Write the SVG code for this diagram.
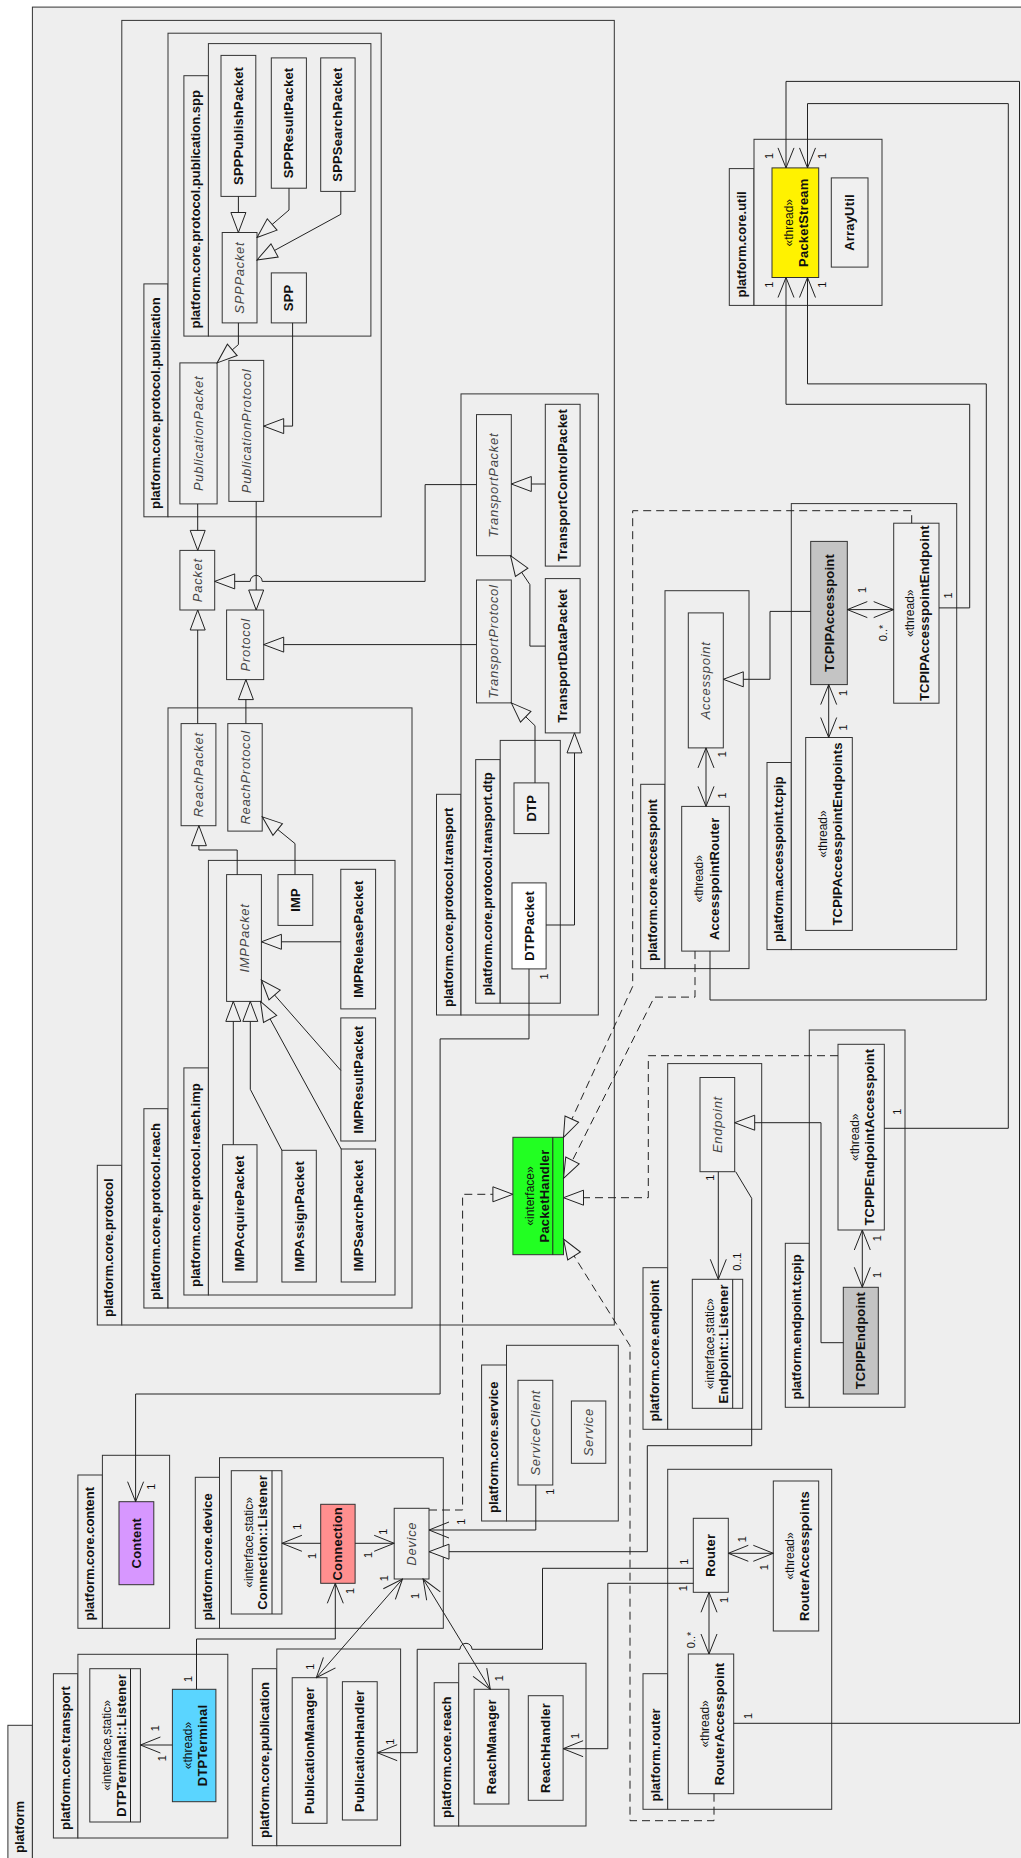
<svg xmlns="http://www.w3.org/2000/svg" width="1021" height="1858" viewBox="0 0 1021 1858">
<style>
.pkg{fill:#eeeeee;stroke:#333;stroke-width:1}
.cls{fill:#f0f0f0;stroke:#333;stroke-width:1}
.ln{fill:none;stroke:#222;stroke-width:1}
.dl{fill:none;stroke:#222;stroke-width:1;stroke-dasharray:8,5}
text{font-family:"Liberation Sans",Arial,sans-serif;fill:#111;text-anchor:middle}
.pl{font-size:13px;font-weight:bold;text-anchor:start}
.b{font-size:13px;font-weight:bold;letter-spacing:0.2px}
.i{font-size:13px;font-style:italic;letter-spacing:0.7px;fill:#444}
.s{font-size:12px}
.m{font-size:11px}
</style>
<defs>
<marker id="tri" viewBox="-1 -9 22 18" refX="20" refY="0" markerWidth="22" markerHeight="18" markerUnits="userSpaceOnUse" orient="auto"><path d="M20,0 L0,-7.5 L0,7.5 Z" fill="#efefef" stroke="#222" stroke-width="1" stroke-dasharray="none"/></marker>
<marker id="arr" viewBox="-1 -9 22 18" refX="20" refY="0" markerWidth="22" markerHeight="18" markerUnits="userSpaceOnUse" orient="auto-start-reverse"><path d="M0,-8 L20,0 L0,8" fill="none" stroke="#222" stroke-width="1"/></marker>
</defs>
<rect x="0" y="0" width="1021" height="1858" fill="#ffffff"/>

<g id="pkg-platform"><rect class="pkg" x="7.9" y="1725.3" width="24.5" height="150"/><rect class="pkg" x="32.4" y="7.1" width="1000" height="1870"/><text class="pl" transform="translate(24,1853) rotate(-90)">platform</text></g>
<g id="pkg-protocol"><rect class="pkg" x="97.3" y="1165.3" width="24.5" height="159.7"/><rect class="pkg" x="121.8" y="20.4" width="492.5" height="1304.6"/><text class="pl" transform="translate(113.3,1317) rotate(-90)">platform.core.protocol</text></g>
<g id="pkg-publication"><rect class="pkg" x="143.9" y="283.9" width="24.1" height="232.9"/><rect class="pkg" x="168" y="33.2" width="213.2" height="483.6"/><text class="pl" transform="translate(160,509) rotate(-90)">platform.core.protocol.publication</text></g>
<g id="pkg-spp"><rect class="pkg" x="183.9" y="75.7" width="24.5" height="260.4"/><rect class="pkg" x="208.4" y="43.6" width="162.5" height="292.5"/><text class="pl" transform="translate(200.2,328.5) rotate(-90)">platform.core.protocol.publication.spp</text></g>
<g id="pkg-transport"><rect class="pkg" x="436.5" y="794.3" width="24.5" height="220.7"/><rect class="pkg" x="461" y="393.9" width="137.3" height="621.1"/><text class="pl" transform="translate(452.5,1007) rotate(-90)">platform.core.protocol.transport</text></g>
<g id="pkg-dtp"><rect class="pkg" x="475.7" y="759.6" width="24.5" height="243.6"/><rect class="pkg" x="500.2" y="740.4" width="60.1" height="262.8"/><text class="pl" transform="translate(491.7,995.5) rotate(-90)">platform.core.protocol.transport.dtp</text></g>
<g id="pkg-reach"><rect class="pkg" x="143.9" y="1108.7" width="24.1" height="199.3"/><rect class="pkg" x="168" y="707.9" width="244" height="600.1"/><text class="pl" transform="translate(160,1300) rotate(-90)">platform.core.protocol.reach</text></g>
<g id="pkg-imp"><rect class="pkg" x="183.9" y="1067.9" width="24.5" height="227.1"/><rect class="pkg" x="208.4" y="860.4" width="186.6" height="434.6"/><text class="pl" transform="translate(200.2,1287) rotate(-90)">platform.core.protocol.reach.imp</text></g>
<g id="pkg-util"><rect class="pkg" x="729.3" y="168.6" width="24.7" height="136.8"/><rect class="pkg" x="754" y="139.3" width="128" height="166.1"/><text class="pl" transform="translate(745.5,297.5) rotate(-90)">platform.core.util</text></g>
<g id="pkg-core-accesspoint"><rect class="pkg" x="640.7" y="784.3" width="24.3" height="184.3"/><rect class="pkg" x="665" y="590.7" width="84" height="377.9"/><text class="pl" transform="translate(656.7,961) rotate(-90)">platform.core.accesspoint</text></g>
<g id="pkg-accesspoint-tcpip"><rect class="pkg" x="767" y="762.5" width="24.3" height="187.1"/><rect class="pkg" x="791.3" y="503.6" width="165.4" height="446"/><text class="pl" transform="translate(783,942) rotate(-90)">platform.accesspoint.tcpip</text></g>
<g id="pkg-core-endpoint"><rect class="pkg" x="643" y="1267.7" width="24.7" height="161.6"/><rect class="pkg" x="667.7" y="1063.6" width="94" height="365.7"/><text class="pl" transform="translate(659,1421.5) rotate(-90)">platform.core.endpoint</text></g>
<g id="pkg-endpoint-tcpip"><rect class="pkg" x="785.3" y="1243.3" width="24" height="164"/><rect class="pkg" x="809.3" y="1030" width="95.7" height="377.3"/><text class="pl" transform="translate(801.3,1399.5) rotate(-90)">platform.endpoint.tcpip</text></g>
<g id="pkg-service"><rect class="pkg" x="481.6" y="1365" width="24.9" height="156"/><rect class="pkg" x="506.5" y="1345.3" width="111.8" height="175.7"/><text class="pl" transform="translate(498,1513) rotate(-90)">platform.core.service</text></g>
<g id="pkg-content"><rect class="pkg" x="77.9" y="1475" width="24.5" height="153.3"/><rect class="pkg" x="102.4" y="1455.3" width="67.2" height="173"/><text class="pl" transform="translate(94,1620.5) rotate(-90)">platform.core.content</text></g>
<g id="pkg-device"><rect class="pkg" x="195.3" y="1477.3" width="24.2" height="151"/><rect class="pkg" x="219.5" y="1457.7" width="223.8" height="170.6"/><text class="pl" transform="translate(211.5,1620.5) rotate(-90)">platform.core.device</text></g>
<g id="pkg-core-transport"><rect class="pkg" x="53.4" y="1673.7" width="24.5" height="164.3"/><rect class="pkg" x="77.9" y="1654.3" width="149.9" height="183.7"/><text class="pl" transform="translate(69.5,1830) rotate(-90)">platform.core.transport</text></g>
<g id="pkg-core-publication"><rect class="pkg" x="252.3" y="1668.7" width="24.5" height="177"/><rect class="pkg" x="276.8" y="1649" width="123.8" height="196.7"/><text class="pl" transform="translate(268.5,1838) rotate(-90)">platform.core.publication</text></g>
<g id="pkg-core-reach"><rect class="pkg" x="434.2" y="1682.7" width="24.5" height="143.3"/><rect class="pkg" x="458.7" y="1663.3" width="127.3" height="162.7"/><text class="pl" transform="translate(450.5,1818) rotate(-90)">platform.core.reach</text></g>
<g id="pkg-router"><rect class="pkg" x="643" y="1673.7" width="24.7" height="135.6"/><rect class="pkg" x="667.7" y="1469.3" width="164" height="340"/><text class="pl" transform="translate(659.5,1801.5) rotate(-90)">platform.router</text></g>

<g id="SPPPublishPacket"><rect class="cls" x="221" y="55.4" width="34.8" height="141"/><text class="b" transform="translate(242.9,125.9) rotate(-90)">SPPPublishPacket</text></g>
<g id="SPPResultPacket"><rect class="cls" x="271.3" y="57.9" width="35.1" height="130.3"/><text class="b" transform="translate(293.4,123) rotate(-90)">SPPResultPacket</text></g>
<g id="SPPSearchPacket"><rect class="cls" x="320.7" y="57.9" width="34.4" height="133.5"/><text class="b" transform="translate(342.4,124.6) rotate(-90)">SPPSearchPacket</text></g>
<g id="SPPPacket"><rect class="cls" x="222.2" y="232.5" width="34.8" height="90.4"/><text class="i" transform="translate(244.1,277.7) rotate(-90)">SPPPacket</text></g>
<g id="SPP"><rect class="cls" x="271.3" y="272.9" width="35.1" height="50"/><text class="b" transform="translate(293.4,297.9) rotate(-90)">SPP</text></g>
<g id="PublicationPacket"><rect class="cls" x="179.9" y="362.9" width="37.2" height="141"/><text class="i" transform="translate(203,433.4) rotate(-90)">PublicationPacket</text></g>
<g id="PublicationProtocol"><rect class="cls" x="228.9" y="360.4" width="34.8" height="141"/><text class="i" transform="translate(250.8,430.9) rotate(-90)">PublicationProtocol</text></g>
<g id="Packet"><rect class="cls" x="179.9" y="550.4" width="34.8" height="59.6"/><text class="i" transform="translate(201.8,580.2) rotate(-90)">Packet</text></g>
<g id="Protocol"><rect class="cls" x="226.6" y="610" width="37.1" height="69.6"/><text class="i" transform="translate(249.7,644.8) rotate(-90)">Protocol</text></g>
<g id="TransportPacket"><rect class="cls" x="476.5" y="414.6" width="34.8" height="141.1"/><text class="i" transform="translate(498.4,485.2) rotate(-90)">TransportPacket</text></g>
<g id="TransportControlPacket"><rect class="cls" x="545.3" y="404.3" width="34.8" height="161.8"/><text class="b" transform="translate(567.2,485.2) rotate(-90)">TransportControlPacket</text></g>
<g id="TransportProtocol"><rect class="cls" x="476.5" y="580" width="34.8" height="122.9"/><text class="i" transform="translate(498.4,641.5) rotate(-90)">TransportProtocol</text></g>
<g id="TransportDataPacket"><rect class="cls" x="545.3" y="578.6" width="34.8" height="154.3"/><text class="b" transform="translate(567.2,655.8) rotate(-90)">TransportDataPacket</text></g>
<g id="DTP"><rect class="cls" x="514" y="782.9" width="34.8" height="50.7"/><text class="b" transform="translate(535.9,808.3) rotate(-90)">DTP</text></g>
<g id="DTPPacket"><rect class="cls" x="512" y="882.9" width="34.1" height="86" style="fill:#ffffff"/><text class="b" transform="translate(533.6,925.9) rotate(-90)">DTPPacket</text></g>
<g id="ReachPacket"><rect class="cls" x="181.1" y="723.6" width="34.8" height="102.1"/><text class="i" transform="translate(203,774.7) rotate(-90)">ReachPacket</text></g>
<g id="ReachProtocol"><rect class="cls" x="227.8" y="723.6" width="34.4" height="107.5"/><text class="i" transform="translate(249.5,777.4) rotate(-90)">ReachProtocol</text></g>
<g id="IMPPacket"><rect class="cls" x="226.6" y="874.6" width="34.8" height="126.8"/><text class="i" transform="translate(248.5,938) rotate(-90)">IMPPacket</text></g>
<g id="IMP"><rect class="cls" x="278" y="874.6" width="34.8" height="50.8"/><text class="b" transform="translate(299.9,900) rotate(-90)">IMP</text></g>
<g id="IMPReleasePacket"><rect class="cls" x="340.8" y="869.3" width="34.8" height="139.6"/><text class="b" transform="translate(362.7,939.1) rotate(-90)">IMPReleasePacket</text></g>
<g id="IMPResultPacket"><rect class="cls" x="340.8" y="1017.9" width="34.8" height="123.1"/><text class="b" transform="translate(362.7,1079.5) rotate(-90)">IMPResultPacket</text></g>
<g id="IMPAcquirePacket"><rect class="cls" x="222.6" y="1144.7" width="34.4" height="137.3"/><text class="b" transform="translate(244.3,1213.4) rotate(-90)">IMPAcquirePacket</text></g>
<g id="IMPAssignPacket"><rect class="cls" x="281.9" y="1150.3" width="34.4" height="131.7"/><text class="b" transform="translate(303.6,1216.2) rotate(-90)">IMPAssignPacket</text></g>
<g id="IMPSearchPacket"><rect class="cls" x="341.2" y="1149" width="34.4" height="133"/><text class="b" transform="translate(362.9,1215.5) rotate(-90)">IMPSearchPacket</text></g>
<g id="PacketStream"><rect class="cls" x="772" y="167.9" width="46.7" height="109.6" style="fill:#fff200"/><text class="s" transform="translate(792.9,222.7) rotate(-90)">«thread»</text><text class="b" transform="translate(808.4,222.7) rotate(-90)">PacketStream</text></g>
<g id="ArrayUtil"><rect class="cls" x="831.3" y="177.9" width="36.7" height="89.2"/><text class="b" transform="translate(854.2,222.5) rotate(-90)">ArrayUtil</text></g>
<g id="TCPIPAccesspoint"><rect class="cls" x="810.7" y="541.4" width="36.6" height="143.2" style="fill:#c4c4c4"/><text class="b" transform="translate(833.5,613) rotate(-90)">TCPIPAccesspoint</text></g>
<g id="TCPIPAccesspointEndpoint"><rect class="cls" x="893.7" y="523.2" width="45.3" height="180"/><text class="s" transform="translate(913.9,613.2) rotate(-90)">«thread»</text><text class="b" transform="translate(929.4,613.2) rotate(-90)">TCPIPAccesspointEndpoint</text></g>
<g id="TCPIPAccesspointEndpoints"><rect class="cls" x="805.7" y="737.5" width="46.6" height="192.9"/><text class="s" transform="translate(826.5,834) rotate(-90)">«thread»</text><text class="b" transform="translate(842,834) rotate(-90)">TCPIPAccesspointEndpoints</text></g>
<g id="Accesspoint"><rect class="cls" x="688.3" y="612.9" width="35" height="135"/><text class="i" transform="translate(710.3,680.4) rotate(-90)">Accesspoint</text></g>
<g id="AccesspointRouter"><rect class="cls" x="681.7" y="806.4" width="47.6" height="144.7"/><text class="s" transform="translate(703,878.8) rotate(-90)">«thread»</text><text class="b" transform="translate(718.5,878.8) rotate(-90)">AccesspointRouter</text></g>
<g id="Endpoint"><rect class="cls" x="700" y="1077.5" width="34.7" height="94.2"/><text class="i" transform="translate(721.9,1124.6) rotate(-90)">Endpoint</text></g>
<g id="EndpointListener"><rect class="cls" x="692.3" y="1279.3" width="50.4" height="129"/><line class="ln" x1="732.7" y1="1279.3" x2="732.7" y2="1408.3"/><text class="s" transform="translate(713.5,1343.8) rotate(-90)">«interface,static»</text><text class="b" transform="translate(728,1343.8) rotate(-90)">Endpoint::Listener</text></g>
<g id="TCPIPEndpointAccesspoint"><rect class="cls" x="838" y="1044.3" width="46.3" height="185.7"/><text class="s" transform="translate(858.7,1137.2) rotate(-90)">«thread»</text><text class="b" transform="translate(874.2,1137.2) rotate(-90)">TCPIPEndpointAccesspoint</text></g>
<g id="TCPIPEndpoint"><rect class="cls" x="843.3" y="1287.3" width="35" height="106.7" style="fill:#c4c4c4"/><text class="b" transform="translate(865.3,1340.7) rotate(-90)">TCPIPEndpoint</text></g>
<g id="PacketHandler"><rect class="cls" x="512.9" y="1137.3" width="50.6" height="117.4" style="fill:#22ff22"/><line class="ln" x1="552.8" y1="1137.3" x2="552.8" y2="1254.7"/><text class="s" transform="translate(533.6,1196) rotate(-90)">«interface»</text><text class="b" transform="translate(549.4,1196) rotate(-90)">PacketHandler</text></g>
<g id="ServiceClient"><rect class="cls" x="518" y="1380.3" width="34.8" height="104.7"/><text class="i" transform="translate(539.9,1432.7) rotate(-90)">ServiceClient</text></g>
<g id="Service"><rect class="cls" x="571.4" y="1401" width="34.4" height="62.3"/><text class="i" transform="translate(593.1,1432.2) rotate(-90)">Service</text></g>
<g id="Content"><rect class="cls" x="119" y="1501.7" width="34.8" height="83" style="fill:#d797ff"/><text class="b" transform="translate(140.9,1543.2) rotate(-90)">Content</text></g>
<g id="ConnectionListener"><rect class="cls" x="231.3" y="1470.7" width="50.6" height="143.3"/><line class="ln" x1="272" y1="1470.7" x2="272" y2="1614"/><text class="s" transform="translate(252.6,1542.4) rotate(-90)">«interface,static»</text><text class="b" transform="translate(267.1,1542.4) rotate(-90)">Connection::Listener</text></g>
<g id="Connection"><rect class="cls" x="320.7" y="1504.3" width="34.4" height="79" style="fill:#ff8f8f"/><text class="b" transform="translate(342.4,1543.8) rotate(-90)">Connection</text></g>
<g id="Device"><rect class="cls" x="394.2" y="1508.3" width="34.8" height="70.7"/><text class="i" transform="translate(416.1,1543.7) rotate(-90)">Device</text></g>
<g id="DTPTerminalListener"><rect class="cls" x="89.8" y="1668.7" width="50.6" height="153.3"/><line class="ln" x1="130.5" y1="1668.7" x2="130.5" y2="1822"/><text class="s" transform="translate(111.2,1745.4) rotate(-90)">«interface,static»</text><text class="b" transform="translate(125.7,1745.4) rotate(-90)">DTPTerminal::Listener</text></g>
<g id="DTPTerminal"><rect class="cls" x="172.4" y="1689.3" width="43.5" height="112.4" style="fill:#5ad5ff"/><text class="s" transform="translate(191.7,1745.5) rotate(-90)">«thread»</text><text class="b" transform="translate(207.2,1745.5) rotate(-90)">DTPTerminal</text></g>
<g id="PublicationManager"><rect class="cls" x="292.2" y="1677.7" width="34.8" height="145.6"/><text class="b" transform="translate(314.1,1750.5) rotate(-90)">PublicationManager</text></g>
<g id="PublicationHandler"><rect class="cls" x="342.4" y="1681.7" width="34.8" height="138.3"/><text class="b" transform="translate(364.3,1750.9) rotate(-90)">PublicationHandler</text></g>
<g id="ReachManager"><rect class="cls" x="474.1" y="1689.3" width="34.8" height="114.7"/><text class="b" transform="translate(496,1746.7) rotate(-90)">ReachManager</text></g>
<g id="ReachHandler"><rect class="cls" x="528.3" y="1695.7" width="34.8" height="104.6"/><text class="b" transform="translate(550.2,1748) rotate(-90)">ReachHandler</text></g>
<g id="Router"><rect class="cls" x="693.3" y="1518.3" width="35" height="74"/><text class="b" transform="translate(715.3,1555.3) rotate(-90)">Router</text></g>
<g id="RouterAccesspoints"><rect class="cls" x="773.3" y="1481" width="45.4" height="150"/><text class="s" transform="translate(793.5,1556) rotate(-90)">«thread»</text><text class="b" transform="translate(809,1556) rotate(-90)">RouterAccesspoints</text></g>
<g id="RouterAccesspoint"><rect class="cls" x="688.3" y="1654" width="45.4" height="139.7"/><text class="s" transform="translate(708.5,1723.9) rotate(-90)">«thread»</text><text class="b" transform="translate(724,1723.9) rotate(-90)">RouterAccesspoint</text></g>

<g id="connectors">
<path class="ln" marker-end="url(#tri)" d="M238.4,196.4 V232.5"/>
<path class="ln" marker-end="url(#tri)" d="M289,188.2 V210 L257,237.5"/>
<path class="ln" marker-end="url(#tri)" d="M340.8,191.4 V214.3 L257,260"/>
<path class="ln" marker-end="url(#tri)" d="M238.4,322.9 V344.6 L217.1,362.9"/>
<path class="ln" marker-end="url(#tri)" d="M292.6,322.9 V426.1 H263.7"/>
<path class="ln" marker-end="url(#tri)" d="M197.7,503.9 V550.4"/>
<path class="ln" marker-end="url(#tri)" d="M256.2,501.4 V610"/>
<path class="ln" marker-end="url(#tri)" d="M476.5,484.6 H425.1 V581.4 H262.2 A6,6 0 0 0 250.2,581.4 H214.7"/>
<path class="ln" marker-end="url(#tri)" d="M545.3,484 H511.3"/>
<path class="ln" marker-end="url(#tri)" d="M545.3,646.1 H529.9 V584.6 L510.5,555.7"/>
<path class="ln" marker-end="url(#tri)" d="M476.5,644.6 H263.7"/>
<path class="ln" marker-end="url(#tri)" d="M535,782.9 V725.7 L511.3,702.9"/>
<path class="ln" marker-end="url(#tri)" d="M546.1,925 H574.5 V732.9"/>
<path class="ln" marker-end="url(#tri)" d="M197.7,723.6 V610"/>
<path class="ln" marker-end="url(#tri)" d="M245.9,723.6 V679.6"/>
<path class="ln" marker-end="url(#tri)" d="M237.2,874.6 V850 H198.9 V825.7"/>
<path class="ln" marker-end="url(#tri)" d="M295,874.6 V843.6 L262.2,816.8"/>
<path class="ln" marker-end="url(#tri)" d="M340.8,941.8 H261.4"/>
<path class="ln" marker-end="url(#tri)" d="M340.8,1070.4 L261.4,980"/>
<path class="ln" marker-end="url(#tri)" d="M233.3,1144.7 V1001.4"/>
<path class="ln" marker-end="url(#tri)" d="M281.9,1150.3 L250.3,1089.3 V1001.4"/>
<path class="ln" marker-end="url(#tri)" d="M341.2,1149 L260.5,1001.4"/>
<path class="ln" marker-end="url(#tri)" d="M810.7,611.4 H770 V679.3 H723.3"/>
<path class="ln" marker-end="url(#tri)" d="M843.3,1342.7 H821 V1122.7 H734.7"/>
<path class="ln" marker-end="url(#tri)" d="M735.7,1171.7 L751.7,1198.3 V1445.7 H647.3 V1551.7 H429"/>
<path class="dl" marker-end="url(#tri)" d="M429,1510 H462.6 V1194.3 H512.9"/>
<path class="dl" marker-end="url(#tri)" d="M911.7,523.2 V510.7 H632.7 V986.4 L563.5,1137.3"/>
<path class="dl" marker-end="url(#tri)" d="M695,951.1 V997.1 H654.3 L563.5,1178.3"/>
<path class="dl" marker-end="url(#tri)" d="M838,1055.7 H648.3 V1197.7 H563.5"/>
<path class="dl" marker-end="url(#tri)" d="M714,1793.7 V1820.7 H630 V1345.7 L563.5,1239"/>
<path class="ln" marker-end="url(#arr)" d="M733.7,1723.3 H1019.5 V81.4 H786 V167.9"/>
<path class="ln" marker-end="url(#arr)" d="M884.3,1128.3 H1008.3 V103.6 H807.5 V167.9"/>
<path class="ln" marker-end="url(#arr)" d="M939,607.9 H969.7 V404.3 H786 V277.5"/>
<path class="ln" marker-end="url(#arr)" d="M710,951.1 V1000 H986.3 V383.9 H807.5 V277.5"/>
<path class="ln" marker-start="url(#arr)" marker-end="url(#arr)" d="M847.3,609.6 H893.7"/>
<path class="ln" marker-start="url(#arr)" marker-end="url(#arr)" d="M828.7,684.6 V737.5"/>
<path class="ln" marker-start="url(#arr)" marker-end="url(#arr)" d="M706,747.9 V806.4"/>
<path class="ln" marker-end="url(#arr)" d="M718.3,1171.7 V1279.3"/>
<path class="ln" marker-start="url(#arr)" marker-end="url(#arr)" d="M862.3,1230 V1287.3"/>
<path class="ln" marker-end="url(#arr)" d="M529,968.9 V1038.9 H440.1 V1394 H135.6 V1501.7"/>
<path class="ln" marker-end="url(#arr)" d="M535.8,1485 V1530 H429"/>
<path class="ln" marker-end="url(#arr)" d="M320.7,1543.3 H281.9"/>
<path class="ln" marker-end="url(#arr)" d="M355.1,1543.3 H394.2"/>
<path class="ln" marker-start="url(#arr)" marker-end="url(#arr)" d="M402.5,1579 L316.3,1677.7"/>
<path class="ln" marker-start="url(#arr)" marker-end="url(#arr)" d="M423.1,1579 L490.3,1689.3"/>
<path class="ln" marker-end="url(#arr)" d="M196.5,1689.3 V1639 H335.3 V1583.3"/>
<path class="ln" marker-end="url(#arr)" d="M172.4,1745 H140.4"/>
<path class="ln" marker-end="url(#arr)" d="M693.3,1568.3 H542.5 V1649.3 H472 A6,6 0 0 0 460,1649.3 H417.2 V1752.7 H377.2"/>
<path class="ln" marker-end="url(#arr)" d="M693.3,1583.3 H607.8 V1748.7 H563.1"/>
<path class="ln" marker-start="url(#arr)" marker-end="url(#arr)" d="M728.3,1553.3 H773.3"/>
<path class="ln" marker-start="url(#arr)" marker-end="url(#arr)" d="M709,1592.3 V1654"/>
</g>

<g id="multiplicities">
<text class="m" transform="translate(773,156) rotate(-90)">1</text>
<text class="m" transform="translate(826.3,156) rotate(-90)">1</text>
<text class="m" transform="translate(773,284.6) rotate(-90)">1</text>
<text class="m" transform="translate(826.3,284.6) rotate(-90)">1</text>
<text class="m" transform="translate(547.7,976.4) rotate(-90)">1</text>
<text class="m" transform="translate(155.4,1486.7) rotate(-90)">1</text>
<text class="m" transform="translate(865.7,590) rotate(-90)">1</text>
<text class="m" transform="translate(887.3,633) rotate(-90)">0..*</text>
<text class="m" transform="translate(952.3,595.4) rotate(-90)">1</text>
<text class="m" transform="translate(847.3,692.9) rotate(-90)">1</text>
<text class="m" transform="translate(847.3,727.5) rotate(-90)">1</text>
<text class="m" transform="translate(725.7,754.3) rotate(-90)">1</text>
<text class="m" transform="translate(725.7,795.4) rotate(-90)">1</text>
<text class="m" transform="translate(714,1177.7) rotate(-90)">1</text>
<text class="m" transform="translate(740.7,1261.7) rotate(-90)">0..1</text>
<text class="m" transform="translate(901.3,1111.7) rotate(-90)">1</text>
<text class="m" transform="translate(880.7,1238.3) rotate(-90)">1</text>
<text class="m" transform="translate(880.7,1275) rotate(-90)">1</text>
<text class="m" transform="translate(553.6,1491.7) rotate(-90)">1</text>
<text class="m" transform="translate(464.7,1521.7) rotate(-90)">1</text>
<text class="m" transform="translate(300.6,1526.7) rotate(-90)">1</text>
<text class="m" transform="translate(316.4,1556) rotate(-90)">1</text>
<text class="m" transform="translate(386.8,1531.7) rotate(-90)">1</text>
<text class="m" transform="translate(371.7,1555) rotate(-90)">1</text>
<text class="m" transform="translate(387.5,1578.3) rotate(-90)">1</text>
<text class="m" transform="translate(314.4,1666.7) rotate(-90)">1</text>
<text class="m" transform="translate(419.2,1596) rotate(-90)">1</text>
<text class="m" transform="translate(503,1678.3) rotate(-90)">1</text>
<text class="m" transform="translate(354,1591) rotate(-90)">1</text>
<text class="m" transform="translate(192.2,1679) rotate(-90)">1</text>
<text class="m" transform="translate(159,1728.3) rotate(-90)">1</text>
<text class="m" transform="translate(166.1,1758.3) rotate(-90)">1</text>
<text class="m" transform="translate(393.5,1741.7) rotate(-90)">1</text>
<text class="m" transform="translate(688,1561.7) rotate(-90)">1</text>
<text class="m" transform="translate(579,1736) rotate(-90)">1</text>
<text class="m" transform="translate(687.3,1588.3) rotate(-90)">1</text>
<text class="m" transform="translate(745.7,1539.3) rotate(-90)">1</text>
<text class="m" transform="translate(768,1567.3) rotate(-90)">1</text>
<text class="m" transform="translate(728,1600) rotate(-90)">1</text>
<text class="m" transform="translate(695,1640) rotate(-90)">0..*</text>
<text class="m" transform="translate(751.7,1716) rotate(-90)">1</text>
</g>
</svg>
